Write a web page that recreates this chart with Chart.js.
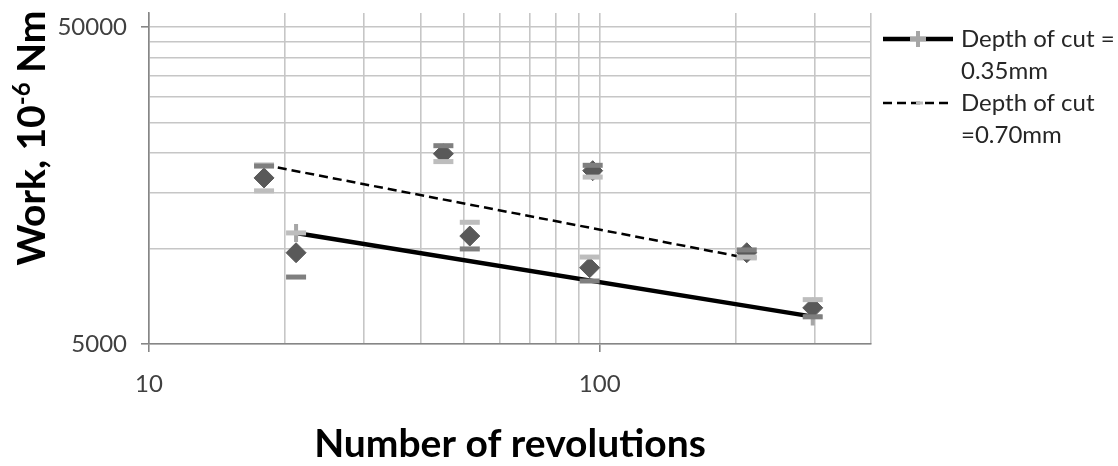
<!DOCTYPE html>
<html>
<head>
<meta charset="utf-8">
<script src="https://cdn.jsdelivr.net/npm/chart.js@4.4.0/dist/chart.umd.min.js"></script>
<style>
  html, body { margin: 0; padding: 0; background: #fff; }
  #wrap { width: 1118px; height: 466px; }
</style>
</head>
<body>
<div id="wrap"><canvas id="chart" width="1118" height="466"></canvas></div>
<script>
// measured points, depth of cut 0.70 mm
const revs070 = [18, 45, 96.5, 212];
const work070 = [16700, 19900, 17600, 9700];
const work070Hi = [18200, 21100, 18300, 9900];
const work070Lo = [15200, 18800, 16800, 9400];

// measured points, depth of cut 0.35 mm
const revs035 = [21.2, 51.5, 95, 297];
const work035 = [9700, 10950, 8700, 6500];
const work035Hi = [11200, 12100, 9400, 6900];
const work035Lo = [8130, 9970, 7900, 6090];

// fitted lines (legend series)
const fitRevs035 = [21.2, 297];
const fitWork035 = [11200, 6100];
const fitRevs070 = [18, 212];
const fitWork070 = [18350, 9340];

const xTicks = [10, 20, 30, 40, 50, 60, 70, 80, 90, 100, 200, 300, 400];
const xLabels = { 10: '10', 100: '100' };
const yTicks = [5000, 10000, 15000, 20000, 25000, 30000, 35000, 40000, 45000, 50000];
const yLabels = { 5000: '5000', 50000: '50000' };

const legendText = [['Depth of cut =', '0.35mm'], ['Depth of cut', '=0.70mm']];
const xTitle = 'Number of revolutions';

const FONT = 'Lato, "Open Sans", sans-serif';
const DIAMOND = '#595959';
const CAP_DARK = '#7f7f7f';
const CAP_LIGHT = '#bdbdbd';
const PLUS = '#a6a6a6';
const GRID = '#c6c6c6';

function pts(xs, ys) {
    return xs.map((x, i) => ({ x: x, y: ys[i] }));
}

function capSet(xs, ys, color) {
    return {
        data: pts(xs, ys),
        showLine: false,
        pointStyle: 'line',
        pointRadius: 10,
        pointBorderWidth: 5,
        pointBorderColor: color,
        order: 0
    };
}

function diamondSet(xs, ys) {
    return {
        data: pts(xs, ys),
        showLine: false,
        pointStyle: 'rectRot',
        pointRadius: 10,
        pointBorderWidth: 1,
        pointBorderColor: DIAMOND,
        pointBackgroundColor: DIAMOND,
        order: 1
    };
}

// axis titles + side legend
const decorPlugin = {
    id: 'decor',
    afterDraw(chart) {
        const ctx = chart.ctx;
        const area = chart.chartArea;
        ctx.save();

        // x title
        ctx.fillStyle = '#000';
        ctx.font = 'bold 39px ' + FONT;
        ctx.textAlign = 'center';
        ctx.textBaseline = 'alphabetic';
        ctx.fillText(xTitle, (area.left + area.right) / 2, 457);

        // y title with superscript
        ctx.save();
        ctx.translate(31, 138);
        ctx.rotate(-Math.PI / 2);
        const big = 'bold 39px ' + FONT, small = 'bold 24px ' + FONT;
        const p1 = 'Work, 10', sup = '-6', p2 = ' Nm';
        ctx.font = big;
        const w1 = ctx.measureText(p1).width, w3 = ctx.measureText(p2).width;
        ctx.font = small;
        const w2 = ctx.measureText(sup).width;
        let x = -(w1 + w2 + w3) / 2;
        ctx.textAlign = 'left';
        ctx.font = big;
        ctx.fillText(p1, x, 14);
        x += w1;
        ctx.font = small;
        ctx.fillText(sup, x, -1);
        x += w2;
        ctx.font = big;
        ctx.fillText(p2, x, 14);
        ctx.restore();

        // legend
        const lx = area.right + 12, tx = area.right + 90;
        const rows = [area.top + 26, area.top + 90];
        ctx.lineCap = 'butt';
        // solid entry
        ctx.strokeStyle = '#000';
        ctx.lineWidth = 4.5;
        ctx.beginPath();
        ctx.moveTo(lx, rows[0]);
        ctx.lineTo(lx + 70, rows[0]);
        ctx.stroke();
        ctx.strokeStyle = PLUS;
        ctx.lineWidth = 4;
        ctx.beginPath();
        ctx.moveTo(lx + 35 - 8, rows[0]);
        ctx.lineTo(lx + 35 + 8, rows[0]);
        ctx.moveTo(lx + 35, rows[0] - 8);
        ctx.lineTo(lx + 35, rows[0] + 8);
        ctx.stroke();
        // dashed entry
        ctx.strokeStyle = '#000';
        ctx.lineWidth = 2.5;
        ctx.setLineDash([9, 5]);
        ctx.beginPath();
        ctx.moveTo(lx, rows[1]);
        ctx.lineTo(lx + 70, rows[1]);
        ctx.stroke();
        ctx.setLineDash([]);
        ctx.strokeStyle = CAP_LIGHT;
        ctx.lineWidth = 3;
        ctx.beginPath();
        ctx.moveTo(lx + 33, rows[1]);
        ctx.lineTo(lx + 40, rows[1]);
        ctx.stroke();

        ctx.fillStyle = '#262626';
        ctx.font = '24px ' + FONT;
        ctx.textAlign = 'left';
        ctx.textBaseline = 'middle';
        legendText.forEach((lines, i) => {
            lines.forEach((t, j) => ctx.fillText(t, tx, rows[i] + j * 32));
        });
        ctx.restore();
    }
};

const ctx = document.getElementById('chart').getContext('2d');
const chart = new Chart(ctx, {
    type: 'scatter',
    data: {
        datasets: [
            capSet(revs070, work070Hi, CAP_DARK),
            capSet(revs070, work070Lo, CAP_LIGHT),
            capSet(revs035, work035Hi, CAP_LIGHT),
            capSet(revs035, work035Lo, CAP_DARK),
            diamondSet(revs070, work070),
            diamondSet(revs035, work035),
            {
                label: 'Depth of cut = 0.35mm',
                data: pts(fitRevs035, fitWork035),
                showLine: true,
                borderColor: '#000',
                borderWidth: 4.5,
                pointStyle: 'cross',
                pointRadius: 9,
                pointBorderWidth: 4,
                pointBorderColor: PLUS,
                order: 2
            },
            {
                label: 'Depth of cut =0.70mm',
                data: pts(fitRevs070, fitWork070),
                showLine: true,
                borderColor: '#000',
                borderWidth: 2.5,
                borderDash: [9, 5],
                pointStyle: 'line',
                pointRadius: 10,
                pointBorderWidth: 5,
                pointBorderColor: CAP_LIGHT,
                order: 3
            }
        ]
    },
    options: {
        responsive: false,
        animation: false,
        events: [],
        layout: { padding: { top: 13, right: 247, left: 0, bottom: 0 }, autoPadding: false },
        plugins: {
            legend: { display: false },
            tooltip: { enabled: false }
        },
        scales: {
            x: {
                type: 'logarithmic',
                min: 10,
                max: 400,
                afterBuildTicks: (scale) => {
                    scale.ticks = xTicks.map(v => ({ value: v }));
                },
                afterFit: (scale) => {
                    scale.height = 122;
                    scale.paddingLeft = 0;
                    scale.paddingRight = 0;
                },
                ticks: {
                    autoSkip: false,
                    maxRotation: 0,
                    padding: 20,
                    color: '#404040',
                    font: { family: FONT, size: 24, lineHeight: 1 },
                    callback: (v) => xLabels[v] || ''
                },
                grid: {
                    color: GRID,
                    lineWidth: 1.6,
                    tickLength: 8,
                    tickColor: (c) => (c.tick && xLabels[c.tick.value]) ? '#868686' : 'rgba(0,0,0,0)',
                    tickWidth: 1.6
                },
                border: { color: '#868686', width: 1.6 }
            },
            y: {
                type: 'logarithmic',
                min: 5000,
                max: 55300,
                afterBuildTicks: (scale) => {
                    scale.ticks = yTicks.map(v => ({ value: v }));
                },
                // labels would otherwise push the plot top down
                afterFit: (scale) => {
                    scale.width = 149;
                    scale.paddingTop = 0;
                    scale.paddingBottom = 0;
                },
                ticks: {
                    autoSkip: false,
                    padding: 14,
                    color: '#404040',
                    font: { family: FONT, size: 24, lineHeight: 1 },
                    callback: (v) => yLabels[v] || ''
                },
                grid: {
                    color: GRID,
                    lineWidth: 1.6,
                    tickLength: 8,
                    tickColor: (c) => (c.tick && yLabels[c.tick.value]) ? '#868686' : 'rgba(0,0,0,0)',
                    tickWidth: 1.6
                },
                border: { color: '#868686', width: 1.6 }
            }
        }
    },
    plugins: [decorPlugin]
});
</script>
</body>
</html>
